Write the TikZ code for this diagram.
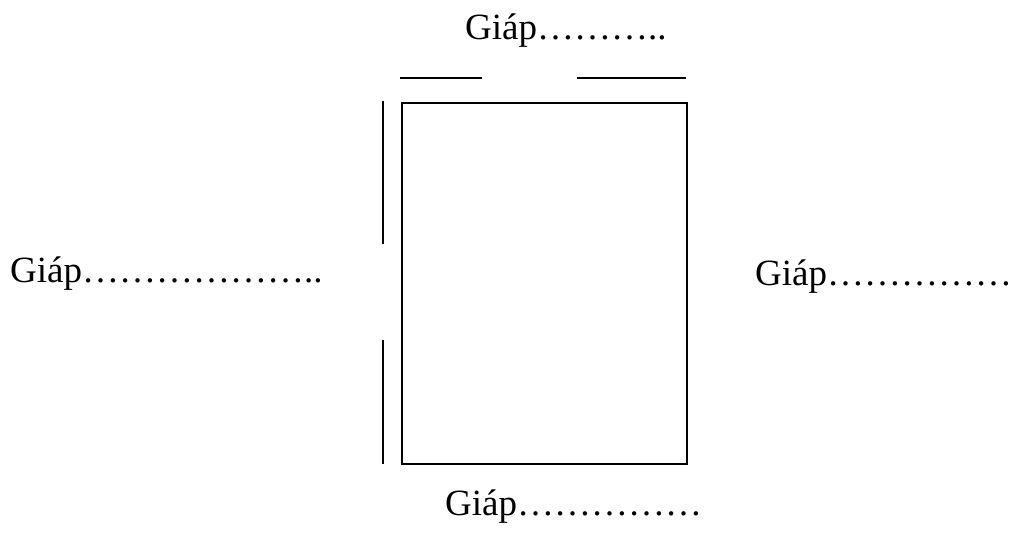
\documentclass[tikz,border=0pt]{standalone}
\usepackage{fontspec}
\setmainfont{Liberation Serif}
\begin{document}
\begin{tikzpicture}[x=1pt,y=-1pt,
  lbl/.style={anchor=base west,inner sep=0pt,font=\fontsize{37}{40}\selectfont},
  edge/.style={line width=2pt,black}]
\useasboundingbox (0,0) rectangle (1014,533);
\node[draw,line width=2pt,minimum width=285pt,minimum height=361pt,inner sep=0pt,anchor=north west] (lot) at (401,102) {};
% top marks
\draw[edge] (400,78) -- (482,78);
\draw[edge] (577,78) -- (686,78);
% left marks
\draw[edge] (383,101) -- (383,244);
\draw[edge] (383,340) -- (383,464);
% labels
\node[lbl] (top) at (465,39) {Giáp\ldots\ldots\ldots..};
\node[lbl] (left) at (10,282) {Giáp\ldots\ldots\ldots\ldots\ldots\ldots..};
\node[lbl] (right) at (755,285) {Giáp\ldots\ldots\ldots\ldots\ldots};
\node[lbl] (bottom) at (445,515) {Giáp\ldots\ldots\ldots\ldots\ldots};
\end{tikzpicture}
\end{document}
